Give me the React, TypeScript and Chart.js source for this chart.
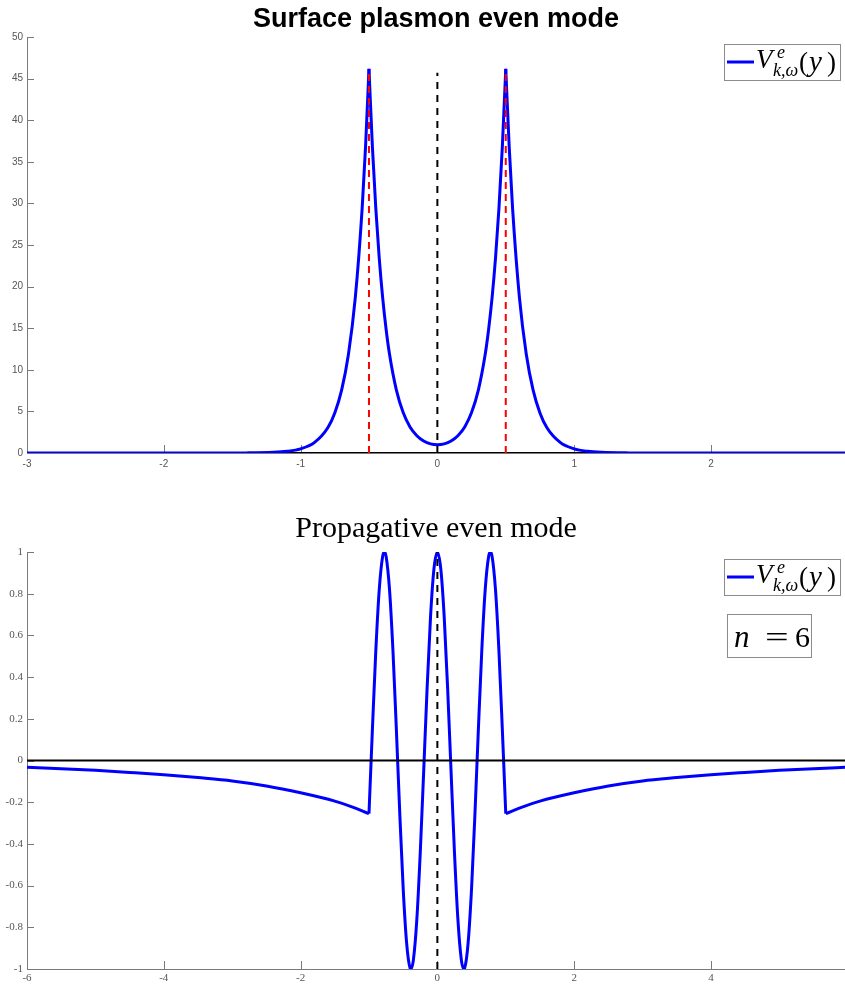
import React, { useEffect, useRef } from "react";
import { Chart, registerables } from "chart.js";

Chart.register(...registerables);

// ---------- Top chart: surface plasmon even mode ----------
const plasmonTitle = "Surface plasmon even mode";
const plasmonXTicks = [-3, -2, -1, 0, 1, 2];
const plasmonYTicks = [0, 5, 10, 15, 20, 25, 30, 35, 40, 45, 50];

const plasmonLeftX = [-3, -2, -1.6, -1.4, -1.2, -1.1, -1.0, -0.9, -0.8, -0.75, -0.7, -0.65, -0.6, -0.55, -0.525, -0.5];
const plasmonLeftY = [0, 0, 0.002, 0.013, 0.08, 0.2, 0.5, 1.24, 3.06, 4.81, 7.56, 11.88, 18.67, 29.37, 36.83, 46.17];

const plasmonInnerX = [-0.5, -0.475, -0.45, -0.425, -0.4, -0.375, -0.35, -0.3, -0.25, -0.2, -0.15, -0.1, -0.05, 0, 0.05, 0.1, 0.15, 0.2, 0.25, 0.3, 0.35, 0.375, 0.4, 0.425, 0.45, 0.475, 0.5];
const plasmonInnerY = [46.17, 36.83, 29.38, 23.42, 18.68, 14.91, 11.89, 7.59, 4.86, 3.13, 2.08, 1.44, 1.1, 1.0, 1.1, 1.44, 2.08, 3.13, 4.86, 7.59, 11.89, 14.91, 18.68, 23.42, 29.38, 36.83, 46.17];

const plasmonRightX = [0.5, 0.525, 0.55, 0.6, 0.65, 0.7, 0.75, 0.8, 0.9, 1.0, 1.1, 1.2, 1.4, 1.6, 2, 3];
const plasmonRightY = [46.17, 36.83, 29.37, 18.67, 11.88, 7.56, 4.81, 3.06, 1.24, 0.5, 0.2, 0.08, 0.013, 0.002, 0, 0];

const plasmonRedX = [-0.5, 0.5];
const plasmonRedTop = 46.17;
const plasmonCenterTop = 45.7;

// ---------- Bottom chart: propagative even mode ----------
const propTitle = "Propagative even mode";
const propXTicks = [-6, -4, -2, 0, 2, 4];
const propYTicks = [-1, -0.8, -0.6, -0.4, -0.2, 0, 0.2, 0.4, 0.6, 0.8, 1];

const propLeftX = [-6, -5.5, -5, -4.5, -4, -3.5, -3, -2.5, -2, -1.5, -1.25, -1];
const propLeftY = [-0.032, -0.039, -0.047, -0.057, -0.068, -0.082, -0.098, -0.122, -0.155, -0.195, -0.222, -0.255];

const propInnerX = [-1, -0.95, -0.9, -0.85, -0.8, -0.775, -0.75, -0.7, -0.65, -0.6, -0.55, -0.5, -0.45, -0.4, -0.387, -0.35, -0.3, -0.25, -0.2, -0.15, -0.1, -0.05, 0, 0.05, 0.1, 0.15, 0.2, 0.25, 0.3, 0.35, 0.387, 0.4, 0.45, 0.5, 0.55, 0.6, 0.65, 0.7, 0.75, 0.775, 0.8, 0.85, 0.9, 0.95, 1];
const propInnerY = [-0.255, 0.148, 0.527, 0.819, 0.979, 1.0, 0.98, 0.822, 0.531, 0.153, -0.251, -0.613, -0.873, -0.995, -1.0, -0.955, -0.761, -0.441, -0.051, 0.347, 0.689, 0.919, 1.0, 0.919, 0.689, 0.347, -0.051, -0.441, -0.761, -0.955, -1.0, -0.995, -0.873, -0.613, -0.251, 0.153, 0.531, 0.822, 0.98, 1.0, 0.979, 0.819, 0.527, 0.148, -0.255];

const propRightX = [1, 1.25, 1.5, 2, 2.5, 3, 3.5, 4, 4.5, 5, 5.5, 6];
const propRightY = [-0.255, -0.222, -0.195, -0.155, -0.122, -0.098, -0.082, -0.068, -0.057, -0.047, -0.039, -0.032];

const propN = "6";

const BLUE = "#0000ff";
const AXIS = "#7a7a7a";

function pts(xs: number[], ys: number[]) {
  return xs.map((x, i) => ({ x, y: ys[i] }));
}

function curve(xs: number[], ys: number[]) {
  return {
    data: pts(xs, ys),
    borderColor: BLUE,
    borderWidth: 3,
    pointRadius: 0,
    cubicInterpolationMode: "monotone" as const,
    fill: false,
    order: 3,
  };
}

function segment(data: { x: number; y: number }[], color: string, width: number, dash: number[], order: number) {
  return {
    data,
    borderColor: color,
    borderWidth: width,
    borderDash: dash,
    pointRadius: 0,
    tension: 0,
    fill: false,
    order,
  };
}

function drawLegendBox(ctx: CanvasRenderingContext2D, right: number, top: number) {
  const w = 117;
  const h = 37;
  const x0 = right - w;
  ctx.save();
  ctx.fillStyle = "#ffffff";
  ctx.fillRect(x0, top, w, h);
  ctx.strokeStyle = "#8c8c8c";
  ctx.lineWidth = 1;
  ctx.strokeRect(x0 + 0.5, top + 0.5, w - 1, h - 1);
  ctx.strokeStyle = BLUE;
  ctx.lineWidth = 3;
  ctx.beginPath();
  ctx.moveTo(x0 + 3, top + 18);
  ctx.lineTo(x0 + 30, top + 18);
  ctx.stroke();
  ctx.fillStyle = "#000";
  ctx.textBaseline = "alphabetic";
  ctx.textAlign = "left";
  ctx.font = "italic 27px 'Liberation Serif'";
  ctx.fillText("V", x0 + 32, top + 24);
  ctx.font = "italic 18px 'Liberation Serif'";
  ctx.fillText("e", x0 + 53, top + 14);
  ctx.fillText("k,ω", x0 + 49, top + 32);
  ctx.font = "27px 'Liberation Serif'";
  ctx.fillText("(", x0 + 75, top + 27);
  ctx.font = "italic 29px 'Liberation Serif'";
  ctx.fillText("y", x0 + 85, top + 27);
  ctx.font = "27px 'Liberation Serif'";
  ctx.fillText(")", x0 + 103, top + 27);
  ctx.restore();
}

const decoPlugin = {
  id: "deco",
  beforeDatasetsDraw(chart: any) {
    const { ctx, chartArea, scales } = chart;
    ctx.save();
    ctx.strokeStyle = AXIS;
    ctx.lineWidth = 1;
    ctx.beginPath();
    for (const t of scales.x.ticks) {
      const px = Math.round(scales.x.getPixelForValue(t.value)) + 0.5;
      ctx.moveTo(px, chartArea.bottom);
      ctx.lineTo(px, chartArea.bottom - 8);
    }
    for (const t of scales.y.ticks) {
      const py = Math.round(scales.y.getPixelForValue(t.value)) + 0.5;
      ctx.moveTo(chartArea.left, py);
      ctx.lineTo(chartArea.left + 7, py);
    }
    ctx.stroke();
    ctx.restore();
  },
  afterDraw(chart: any) {
    const { ctx, chartArea } = chart;
    const o = chart.options.plugins.deco || {};
    const cx = (chartArea.left + chartArea.right) / 2;
    ctx.save();
    ctx.fillStyle = "#000";
    ctx.textAlign = "center";
    ctx.textBaseline = "alphabetic";
    ctx.font = o.titleFont;
    ctx.fillText(o.title, cx, o.titleBaseline);
    ctx.restore();
    drawLegendBox(ctx, chartArea.right - 4, chartArea.top + 7);
    if (o.nLabel) {
      const bx = chartArea.right - 118;
      const by = chartArea.top + 62;
      const bw = 85;
      const bh = 44;
      ctx.save();
      ctx.fillStyle = "#fff";
      ctx.fillRect(bx, by, bw, bh);
      ctx.strokeStyle = "#8c8c8c";
      ctx.lineWidth = 1;
      ctx.strokeRect(bx + 0.5, by + 0.5, bw - 1, bh - 1);
      ctx.fillStyle = "#000";
      ctx.textAlign = "left";
      ctx.textBaseline = "alphabetic";
      ctx.font = "italic 31px 'Liberation Serif'";
      ctx.fillText("n", bx + 7, by + 33);
      ctx.font = "30px 'Liberation Serif'";
      ctx.save();
      ctx.translate(bx + 38, by + 33);
      ctx.scale(1.4, 1);
      ctx.fillText("=", 0, 0);
      ctx.restore();
      ctx.fillText(o.nLabel, bx + 68, by + 33);
      ctx.restore();
    }
  },
};

function fmt(v: number) {
  const r = Math.round(v * 10) / 10;
  return String(r);
}

function TopChart() {
  const ref = useRef<HTMLCanvasElement>(null);
  useEffect(() => {
    const chart = new Chart(ref.current!, {
      type: "line",
      data: {
        datasets: [
          curve(plasmonLeftX, plasmonLeftY),
          curve(plasmonInnerX, plasmonInnerY),
          curve(plasmonRightX, plasmonRightY),
          segment([{ x: plasmonXTicks[0], y: 0 }, { x: 3, y: 0 }], "#000", 2, [], 4),
          segment([{ x: plasmonRedX[0], y: 0 }, { x: plasmonRedX[0], y: plasmonRedTop }], "#ff0000", 2, [7, 5], 1),
          segment([{ x: plasmonRedX[1], y: 0 }, { x: plasmonRedX[1], y: plasmonRedTop }], "#ff0000", 2, [7, 5], 1),
          segment([{ x: 0, y: 0 }, { x: 0, y: plasmonCenterTop }], "#000", 2, [7, 6], 1),
        ] as any,
      },
      options: {
        animation: false,
        responsive: false,
        events: [],
        layout: { padding: { top: 37, bottom: 17, left: 0, right: 0 } },
        plugins: {
          legend: { display: false },
          tooltip: { enabled: false },
          deco: { title: plasmonTitle, titleFont: "bold 27px 'Liberation Sans'", titleBaseline: 27 },
        } as any,
        scales: {
          x: {
            type: "linear",
            min: -3,
            max: 2.98,
            afterBuildTicks: (s: any) => {
              s.ticks = plasmonXTicks.map((v) => ({ value: v }));
            },
            grid: { display: false, drawTicks: false },
            border: { display: true, color: AXIS, width: 1 },
            ticks: { padding: 5, color: "#555", font: { family: "'Liberation Sans'", size: 10 }, maxRotation: 0, autoSkip: false, callback: (v: any) => fmt(Number(v)) },
            afterFit: (s: any) => {
              s.height = 20;
            },
          },
          y: {
            type: "linear",
            min: 0,
            max: 50,
            afterBuildTicks: (s: any) => {
              s.ticks = plasmonYTicks.map((v) => ({ value: v }));
            },
            grid: { display: false, drawTicks: false },
            border: { display: true, color: AXIS, width: 1 },
            ticks: { padding: 4, color: "#555", font: { family: "'Liberation Sans'", size: 10 }, autoSkip: false, callback: (v: any) => fmt(Number(v)) },
            afterFit: (s: any) => {
              s.width = 27;
            },
          },
        } as any,
      },
      plugins: [decoPlugin as any],
    });
    return () => chart.destroy();
  }, []);
  return <canvas ref={ref} width={845} height={490} style={{ display: "block", width: 845, height: 490 }} />;
}

function BottomChart() {
  const ref = useRef<HTMLCanvasElement>(null);
  useEffect(() => {
    const chart = new Chart(ref.current!, {
      type: "line",
      data: {
        datasets: [
          curve(propLeftX, propLeftY),
          curve(propInnerX, propInnerY),
          curve(propRightX, propRightY),
          segment([{ x: -6, y: 0 }, { x: 6, y: 0 }], "#000", 2, [], 2),
          segment([{ x: 0, y: -1 }, { x: 0, y: 1 }], "#000", 2, [7, 6], 1),
        ] as any,
      },
      options: {
        animation: false,
        responsive: false,
        events: [],
        layout: { padding: { top: 62, bottom: 0, left: 0, right: 0 } },
        plugins: {
          legend: { display: false },
          tooltip: { enabled: false },
          deco: { title: propTitle, titleFont: "30px 'Liberation Serif'", titleBaseline: 47, nLabel: propN },
        } as any,
        scales: {
          x: {
            type: "linear",
            min: -6,
            max: 5.96,
            afterBuildTicks: (s: any) => {
              s.ticks = propXTicks.map((v) => ({ value: v }));
            },
            grid: { display: false, drawTicks: false },
            border: { display: true, color: AXIS, width: 1 },
            ticks: { padding: 3, color: "#555", font: { family: "'Liberation Serif'", size: 11 }, maxRotation: 0, autoSkip: false, callback: (v: any) => fmt(Number(v)) },
            afterFit: (s: any) => {
              s.height = 18;
            },
          },
          y: {
            type: "linear",
            min: -1,
            max: 1,
            afterBuildTicks: (s: any) => {
              s.ticks = propYTicks.map((v) => ({ value: v }));
            },
            grid: { display: false, drawTicks: false },
            border: { display: true, color: AXIS, width: 1 },
            ticks: { padding: 4, color: "#555", font: { family: "'Liberation Serif'", size: 11 }, autoSkip: false, callback: (v: any) => fmt(Number(v)) },
            afterFit: (s: any) => {
              s.width = 27;
            },
          },
        } as any,
      },
      plugins: [decoPlugin as any],
    });
    return () => chart.destroy();
  }, []);
  return <canvas ref={ref} width={845} height={497} style={{ display: "block", width: 845, height: 497 }} />;
}

export default function App() {
  return (
    <div style={{ position: "absolute", left: 0, top: 0, width: 845, height: 987, background: "#fff" }}>
      <TopChart />
      <BottomChart />
    </div>
  );
}
